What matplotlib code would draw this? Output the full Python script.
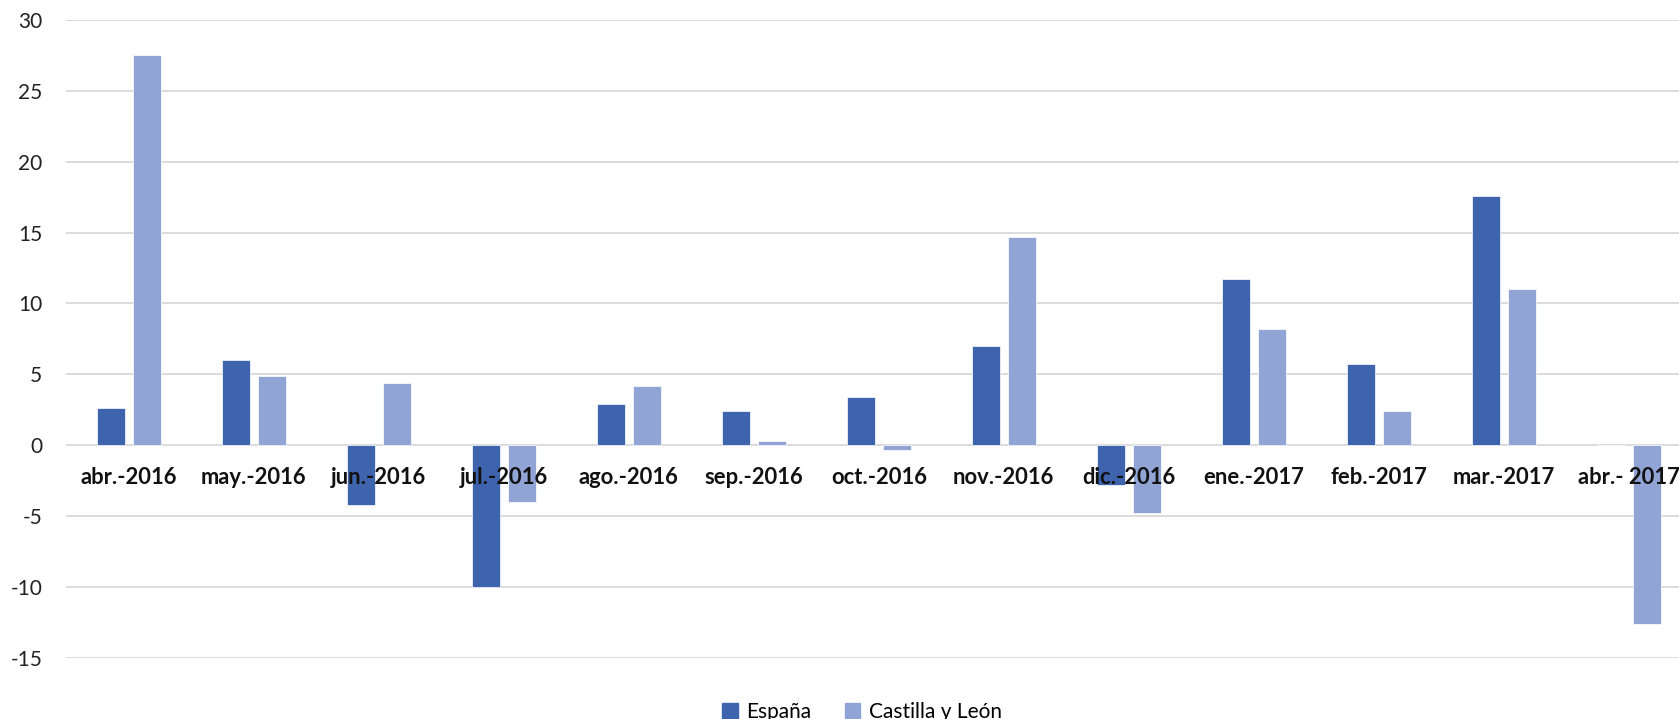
import numpy as np
import matplotlib.pyplot as plt
from matplotlib.patches import Patch

# datos
meses = ['abr.-2016', 'may.-2016', 'jun.-2016', 'jul.-2016', 'ago.-2016', 'sep.-2016',
         'oct.-2016', 'nov.-2016', 'dic.-2016', 'ene.-2017', 'feb.-2017', 'mar.-2017',
         'abr.- 2017']
espana = [2.6, 6.0, -4.2, -10.0, 2.9, 2.4, 3.4, 7.0, -2.8, 11.7, 5.7, 17.6, 0.0]
castilla = [27.5, 4.9, 4.4, -4.0, 4.2, 0.3, -0.35, 14.7, -4.8, 8.2, 2.4, 11.0, -12.6]
yticks = [-15, -10, -5, 0, 5, 10, 15, 20, 25, 30]

C_ESP = '#3D64AD'
C_CYL = '#90A5D5'

plt.rcParams['font.family'] = ['Lato', 'DejaVu Sans']

fig = plt.figure(figsize=(16.79, 7.19), dpi=100)
W, H = 1679, 719
ax = fig.add_axes([66 / W, (H - 657.7) / H, (W - 66) / W, (657.7 - 20) / H])

x = np.arange(len(meses))
bw = 0.224
off = 0.144
ax.bar(x - off, espana, bw, color=C_ESP, edgecolor='white', linewidth=0.5, zorder=2)
ax.bar(x + off, castilla, bw, color=C_CYL, edgecolor='white', linewidth=0.5, zorder=2)

ax.set_ylim(-15, 30)
ax.set_xlim(-0.5, 12.40)
ax.set_yticks(yticks)
ax.set_yticklabels([str(v) for v in yticks], fontsize=15, color='#222222')
ax.yaxis.grid(True, color='#D9D9D9', linewidth=1.3)
ax.set_axisbelow(True)
ax.set_xticks([])
for s in ax.spines.values():
    s.set_visible(False)
ax.tick_params(axis='y', length=0, pad=17)

# etiquetas de mes junto al eje cero, por encima de las barras
for i, m in enumerate(meses):
    ax.annotate(m, (i, 0), xytext=(0, -32), textcoords='offset pixels',
                ha='center', va='center', fontsize=15.8, fontweight='bold',
                color='#111111', zorder=5, annotation_clip=False)

handles = [Patch(color=C_ESP, label='España'), Patch(color=C_CYL, label='Castilla y León')]
fig.legend(handles=handles, loc='center', bbox_to_anchor=(862 / W, 1 - 712 / H), ncol=2,
           frameon=False, fontsize=15, handlelength=0.75, handleheight=0.75,
           handletextpad=0.4, columnspacing=1.6)

fig.savefig('out.png', dpi=100)
